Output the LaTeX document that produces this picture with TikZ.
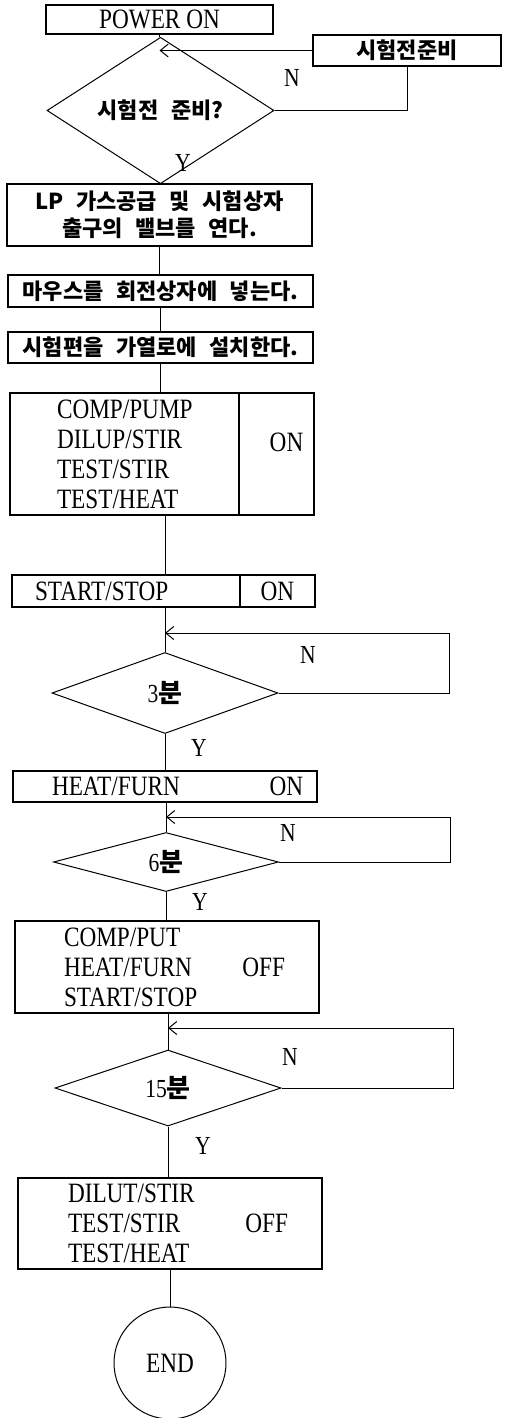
\documentclass[tikz,border=0pt]{standalone}
\usepackage{fontspec}
\setmainfont{Liberation Serif}[FakeStretch=0.83]
\newfontfamily\kr{Noto Sans CJK KR}[WordSpace=2.5]
\usetikzlibrary{shapes.geometric,arrows.meta}

\begin{document}
\begin{tikzpicture}[
  x=1pt, y=-1pt,
  box/.style={draw, line width=1.2pt, inner sep=0pt, minimum height=31pt,
              font=\fontsize{28}{30}\selectfont},
  kbox/.style={box, align=center, font=\kr\bfseries\fontsize{22}{27}\selectfont},
  lbox/.style={box, align=left},
  cond/.style={draw, diamond, line width=1pt, inner sep=0pt,
               font=\fontsize{26}{28}\selectfont},
  yn/.style={inner sep=0pt, font=\fontsize{26}{28}\selectfont},
  every label/.style={inner sep=0pt, font=\fontsize{28}{30}\selectfont},
  >={Straight Barb[length=8pt,width=13pt]}, line width=1pt]
\useasboundingbox (0,0) rectangle (506,1418);

\node[box, minimum width=227pt, minimum height=29pt] (power) at (159.5,19.5) {POWER ON};
\node[kbox, minimum width=188pt] (prep) at (407,50.5) {시험전준비};
\node[cond, minimum width=227pt, minimum height=87pt] (chk) at (160.5,110.5) {\kr\bfseries\fontsize{22}{26}\selectfont 시험전 준비?};
\node[kbox, minimum width=305pt, minimum height=62pt] (gas) at (159.5,215) {LP 가스공급 및 시험상자\\출구의 밸브를 연다.};
\node[kbox, minimum width=305pt, minimum height=32pt] (mouse) at (160.5,291) {마우스를 회전상자에 넣는다.};
\node[kbox, minimum width=305pt] (spec) at (160.5,347.5) {시험편을 가열로에 설치한다.};
\node[lbox, inner xsep=47pt, text width=135pt, minimum height=122pt] (pump) at (124.5,454) {COMP/PUMP\\DILUP/STIR\\TEST/STIR\\TEST/HEAT};
\node[box, minimum width=75pt, minimum height=122pt, label={[xshift=10pt,yshift=12pt]center:ON}] (pumpon) at (276.5,454) {};
\node[lbox, inner xsep=23pt, text width=182pt, minimum height=32pt] (start) at (126,591) {START/STOP};
\node[box, minimum width=75pt, minimum height=32pt] (starton) at (277.5,591) {ON};
\node[cond, minimum width=226pt, minimum height=81pt] (wait3) at (165,693) {3{\kr\bfseries 분}};
\node[lbox, inner xsep=39pt, text width=226pt, label={[anchor=east,xshift=-14pt]east:ON}] (furn) at (165,786.5) {HEAT/FURN};
\node[cond, minimum width=225pt, minimum height=59pt] (wait6) at (166,862) {6{\kr\bfseries 분}};
\node[lbox, inner xsep=49pt, text width=206pt, minimum height=92pt, label={[anchor=east,xshift=-34pt]east:OFF}] (put) at (167,967) {COMP/PUT\\HEAT/FURN\\START/STOP};
\node[cond, minimum width=226pt, minimum height=76pt] (wait15) at (168,1088) {15{\kr\bfseries 분}};
\node[lbox, inner xsep=50pt, text width=204pt, minimum height=91pt, label={[anchor=east,xshift=-34pt]east:OFF}] (dil) at (170,1223.5) {DILUT/STIR\\TEST/STIR\\TEST/HEAT};
\node[draw, circle, minimum size=112pt, inner sep=0pt, font=\fontsize{28}{30}\selectfont] (stop) at (170,1363) {END};

\node[yn] (n1) at (292,78) {N};
\node[yn] (y1) at (183,163) {Y};
\node[yn] (n3) at (308,655) {N};
\node[yn] (y3) at (199,748) {Y};
\node[yn] (n6) at (288,833) {N};
\node[yn] (y6) at (200,902) {Y};
\node[yn] (n15) at (290,1057) {N};
\node[yn] (y15) at (203,1146) {Y};

\coordinate (j1) at (power.south |- prep.west);
\coordinate (j3) at (wait3.north |- 0,633);
\coordinate (j6) at (wait6.north |- 0,817);
\coordinate (j15) at (wait15.north |- 0,1028);

\draw (power.south) -- (power.south |- chk.north);
\draw[->] (prep.west) -- (j1);
\draw (chk.east) -| (prep.south);
\draw (chk.south) -- (chk.south |- gas.north);
\draw (gas.south) -- (gas.south |- mouse.north);
\draw (mouse.south) -- (mouse.south |- spec.north);
\draw (spec.south) -- (spec.south |- pump.north);
\draw (wait3.north |- pump.south) -- (wait3.north |- start.north);
\draw (wait3.north |- start.south) -- (wait3.north);
\draw[->] (wait3.east) -- ++(171,0) |- (j3);
\draw (wait3.south) -- (wait3.south |- furn.north);
\draw (wait6.north |- furn.south) -- (wait6.north);
\draw[->] (wait6.east) -- ++(171,0) |- (j6);
\draw (wait6.south) -- (wait6.south |- put.north);
\draw (wait15.north |- put.south) -- (wait15.north);
\draw[->] (wait15.east) -- ++(172,0) |- (j15);
\draw (wait15.south) -- (wait15.south |- dil.north);
\draw (dil.south -| stop.north) -- (stop.north);
\end{tikzpicture}
\end{document}
